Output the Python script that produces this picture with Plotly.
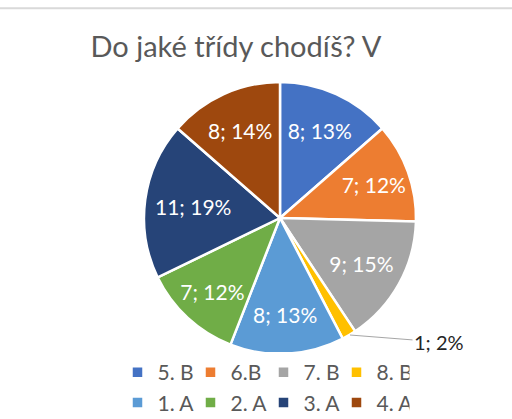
import plotly.graph_objects as go

categories = ["5. B", "6.B", "7. B", "8. B", "1. A", "2. A", "3. A", "4. A"]
counts = [8, 7, 9, 1, 8, 7, 11, 8]
percent_labels = ["13%", "12%", "15%", "2%", "13%", "12%", "19%", "14%"]
colors = ["#4472C4", "#ED7D31", "#A5A5A5", "#FFC000", "#5B9BD5", "#70AD47", "#264478", "#9E480E"]
title_text = "Do jaké třídy chodíš? V"

W, H = 512, 419
ML, MR = 130, 52
PW = W - ML - MR


def px(x):
    return (x - ML) / PW


def py(y):
    return 1 - y / H


texts = [f"{c}; {p}" if c > 1 else "" for c, p in zip(counts, percent_labels)]
small_idx = counts.index(min(counts))

fig = go.Figure(go.Pie(
    labels=categories,
    values=counts,
    text=texts,
    textinfo="text",
    sort=False,
    direction="clockwise",
    rotation=0,
    marker=dict(colors=colors, line=dict(color="white", width=2.5)),
    textposition="inside",
    insidetextorientation="horizontal",
    textfont=dict(family="Lato", size=21, color="white"),
    domain=dict(x=[px(144), px(416)], y=[py(354), py(82)]),
    hoverinfo="label+value+percent",
))

fig.add_annotation(
    x=px(350), y=py(335), xref="paper", yref="paper",
    text=f"{counts[small_idx]}; {percent_labels[small_idx]}",
    showarrow=True, arrowhead=0, arrowwidth=1, arrowcolor="#A6A6A6",
    ax=89, ay=7, axref="pixel", ayref="pixel",
    font=dict(family="Lato", size=20, color="#262626"),
)

fig.add_shape(type="line", xref="paper", yref="paper", x0=px(0), x1=px(W),
              y0=py(8.3), y1=py(8.3), line=dict(color="#D9D9D9", width=2))

fig.update_layout(
    width=W, height=H,
    margin=dict(l=ML, r=MR, t=0, b=0, autoexpand=False),
    paper_bgcolor="white",
    plot_bgcolor="white",
    title=dict(text=title_text, x=236 / W, xanchor="center", y=1 - 47 / H, yanchor="middle",
               font=dict(family="Lato", size=29, color="#595959")),
    showlegend=True,
    legend=dict(orientation="h", x=px(263.5), xanchor="center", y=py(352), yanchor="top",
                font=dict(family="Lato", size=21, color="#595959"),
                entrywidth=28, entrywidthmode="pixels", itemwidth=30,
                traceorder="normal"),
)

fig.write_html("out.html")
